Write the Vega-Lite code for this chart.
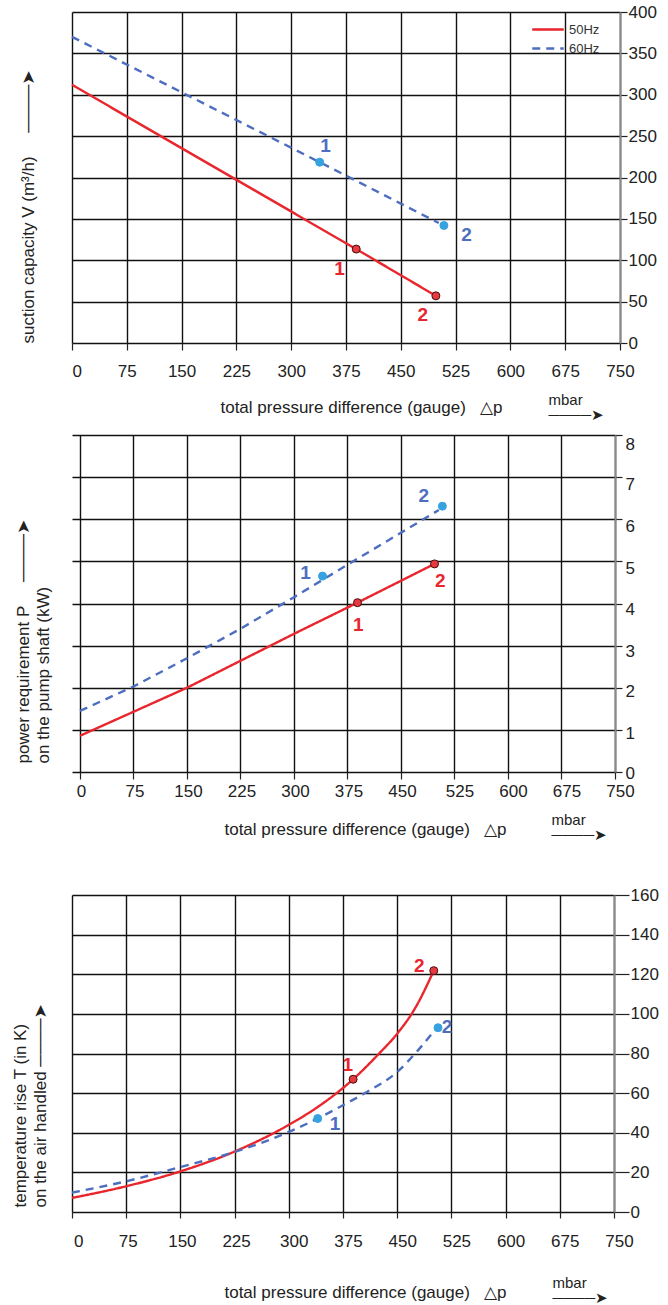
{
  "$schema": "https://vega.github.io/schema/vega-lite/v6.json",
  "padding": {"left": 10, "top": 3, "right": 0, "bottom": 0},
  "autosize": {"type": "pad"},
  "background": "white",
  "config": {"font": "Liberation Sans, Arial, DejaVu Sans, sans-serif", "view": {"stroke": null}},
  "datasets": {
    "suction_curves": [
      {"dp": 0, "V": 312, "freq": "50Hz"}, {"dp": 389, "V": 113.5, "freq": "50Hz"}, {"dp": 498, "V": 57, "freq": "50Hz"},
      {"dp": 0, "V": 370, "freq": "60Hz"}, {"dp": 339, "V": 218.5, "freq": "60Hz"}, {"dp": 502, "V": 145, "freq": "60Hz"}
    ],
    "suction_points": [
      {"dp": 389, "V": 113.5, "freq": "50Hz"}, {"dp": 498, "V": 57, "freq": "50Hz"},
      {"dp": 339, "V": 218.5, "freq": "60Hz"}, {"dp": 509, "V": 142, "freq": "60Hz"}
    ],
    "suction_labels": [
      {"dp": 366, "V": 90, "freq": "50Hz", "label": "1"}, {"dp": 480, "V": 34, "freq": "50Hz", "label": "2"},
      {"dp": 347, "V": 238, "freq": "60Hz", "label": "1"}, {"dp": 540, "V": 130, "freq": "60Hz", "label": "2"}
    ],
    "power_curves": [
      {"dp": 0, "P": 0.86, "freq": "50Hz"}, {"dp": 150, "P": 2.0, "freq": "50Hz"}, {"dp": 300, "P": 3.28, "freq": "50Hz"}, {"dp": 389, "P": 4.02, "freq": "50Hz"}, {"dp": 497, "P": 4.94, "freq": "50Hz"},
      {"dp": 0, "P": 1.45, "freq": "60Hz"}, {"dp": 75, "P": 2.03, "freq": "60Hz"}, {"dp": 150, "P": 2.7, "freq": "60Hz"}, {"dp": 225, "P": 3.4, "freq": "60Hz"}, {"dp": 300, "P": 4.15, "freq": "60Hz"}, {"dp": 375, "P": 4.92, "freq": "60Hz"}, {"dp": 450, "P": 5.68, "freq": "60Hz"}, {"dp": 503, "P": 6.22, "freq": "60Hz"}
    ],
    "power_points": [
      {"dp": 389, "P": 4.02, "freq": "50Hz"}, {"dp": 497, "P": 4.94, "freq": "50Hz"},
      {"dp": 340, "P": 4.65, "freq": "60Hz"}, {"dp": 508, "P": 6.31, "freq": "60Hz"}
    ],
    "power_labels": [
      {"dp": 390, "P": 3.5, "freq": "50Hz", "label": "1"}, {"dp": 505, "P": 4.53, "freq": "50Hz", "label": "2"},
      {"dp": 316, "P": 4.72, "freq": "60Hz", "label": "1"}, {"dp": 482, "P": 6.55, "freq": "60Hz", "label": "2"}
    ],
    "temp_curves": [
      {"dp": 0, "T": 7.1, "freq": "50Hz"}, {"dp": 75, "T": 13, "freq": "50Hz"}, {"dp": 150, "T": 20.5, "freq": "50Hz"}, {"dp": 225, "T": 30.5, "freq": "50Hz"}, {"dp": 300, "T": 44, "freq": "50Hz"}, {"dp": 340, "T": 53, "freq": "50Hz"}, {"dp": 389, "T": 67, "freq": "50Hz"}, {"dp": 425, "T": 80, "freq": "50Hz"}, {"dp": 450, "T": 90, "freq": "50Hz"}, {"dp": 475, "T": 103, "freq": "50Hz"}, {"dp": 500.6, "T": 121.8, "freq": "50Hz"},
      {"dp": 0, "T": 9.8, "freq": "60Hz"}, {"dp": 75, "T": 15.5, "freq": "60Hz"}, {"dp": 150, "T": 22.7, "freq": "60Hz"}, {"dp": 225, "T": 30.3, "freq": "60Hz"}, {"dp": 300, "T": 40.4, "freq": "60Hz"}, {"dp": 340, "T": 47.2, "freq": "60Hz"}, {"dp": 375, "T": 53.9, "freq": "60Hz"}, {"dp": 408, "T": 60.6, "freq": "60Hz"}, {"dp": 450, "T": 70.7, "freq": "60Hz"}, {"dp": 479, "T": 81.7, "freq": "60Hz"}, {"dp": 502, "T": 91.8, "freq": "60Hz"}
    ],
    "temp_points": [
      {"dp": 389, "T": 67, "freq": "50Hz"}, {"dp": 500.6, "T": 121.8, "freq": "50Hz"},
      {"dp": 340, "T": 47.2, "freq": "60Hz"}, {"dp": 506.5, "T": 93, "freq": "60Hz"}
    ],
    "temp_labels": [
      {"dp": 381.5, "T": 74.4, "freq": "50Hz", "label": "1"}, {"dp": 480.5, "T": 124, "freq": "50Hz", "label": "2"},
      {"dp": 364, "T": 44.6, "freq": "60Hz", "label": "1"}, {"dp": 519, "T": 93.5, "freq": "60Hz", "label": "2"}
    ]
  },
  "spacing": 92,
  "bounds": "flush",
  "resolve": {"scale": {"color": "independent", "strokeDash": "independent", "fill": "independent", "stroke": "independent"}},
  "vconcat": [
    {
      "width": 548,
      "height": 331,
      "resolve": {"axis": {"x": "independent", "y": "independent"}},
      "layer": [
        {
          "data": {"name": "suction_curves"},
          "mark": {"type": "line", "strokeWidth": 2.4},
          "encoding": {
            "x": {"field": "dp", "type": "quantitative", "scale": {"domain": [0, 750], "nice": false, "zero": false},
              "axis": {"orient": "bottom", "values": [0, 75, 150, 225, 300, 375, 450, 525, 600, 675, 750], "format": "d",
                "grid": true, "gridColor": "#111", "gridWidth": 1.4, "domain": false,
                "ticks": true, "tickSize": 7, "tickColor": "#222", "tickWidth": 1.2,
                "labelFontSize": 17, "labelColor": "#222", "labelPadding": 21, "labelBaseline": "middle", "labelFlush": false, "labelOverlap": false,
                "labelAlign": {"condition": {"test": "datum.value == 0", "value": "left"}, "value": "center"},
                "title": "total pressure difference (gauge)\u00a0\u00a0\u00a0△p", "titleFontSize": 17, "titleFontWeight": "normal", "titleColor": "#222",
                "titleX": 289, "titleY": 69, "titleAlign": "center", "titleBaseline": "alphabetic"}},
            "y": {"field": "V", "type": "quantitative", "scale": {"domain": [0, 400], "nice": false},
              "axis": {"orient": "right", "values": [0, 50, 100, 150, 200, 250, 300, 350, 400], "title": null,
                "grid": true, "gridColor": "#111", "gridWidth": 1.4,
                "domain": true, "domainColor": "#8a8a8a", "domainWidth": 2,
                "ticks": true, "tickSize": 7, "tickColor": "#222", "tickWidth": 1.2,
                "labelFontSize": 17, "labelColor": "#222", "labelPadding": 1, "labelFlush": false, "labelOverlap": false}},
            "color": {"field": "freq", "type": "nominal", "scale": {"domain": ["50Hz", "60Hz"], "range": ["#e8262d", "#4d6ebf"]},
              "legend": {"orient": "none", "legendX": 464, "legendY": 5.5, "title": null, "symbolType": "M-1.5,0H1.5", "symbolSize": 441, "symbolStrokeWidth": 2.5, "labelFontSize": 13, "labelColor": "#333", "labelOffset": 9, "rowPadding": 0, "padding": 0}},
            "strokeDash": {"field": "freq", "type": "nominal", "scale": {"domain": ["50Hz", "60Hz"], "range": [[1, 0], [8, 6]]},
              "legend": {"orient": "none", "legendX": 464, "legendY": 5.5, "title": null, "symbolType": "M-1.5,0H1.5", "symbolSize": 441, "symbolStrokeWidth": 2.5, "labelFontSize": 13, "labelColor": "#333", "labelOffset": 9, "rowPadding": 0, "padding": 0}}
          }
        },
        {
          "data": {"name": "suction_points"},
          "mark": {"type": "circle", "size": 64, "strokeWidth": 1, "opacity": 1},
          "encoding": {
            "x": {"field": "dp", "type": "quantitative", "axis": null},
            "y": {"field": "V", "type": "quantitative", "axis": null},
            "fill": {"field": "freq", "type": "nominal", "scale": {"domain": ["50Hz", "60Hz"], "range": ["#e53a3f", "#36a2e0"]}, "legend": null},
            "stroke": {"field": "freq", "type": "nominal", "scale": {"domain": ["50Hz", "60Hz"], "range": ["#4a0d0d", "#36a2e0"]}, "legend": null}
          }
        },
        {
          "data": {"name": "suction_labels"},
          "mark": {"type": "text", "fontSize": 19, "fontWeight": "bold", "align": "center", "baseline": "middle"},
          "encoding": {
            "x": {"field": "dp", "type": "quantitative",
              "axis": {"orient": "bottom", "labels": false, "ticks": false, "domain": false, "grid": false,
                "title": ["mbar", "────➤"], "titleFontSize": 15, "titleFontWeight": "normal", "titleColor": "#222", "titleLineHeight": 15,
                "titleX": 476, "titleY": 61, "titleAlign": "left", "titleBaseline": "alphabetic"}},
            "y": {"field": "V", "type": "quantitative",
              "axis": {"orient": "left", "labels": false, "ticks": false, "domain": false, "grid": false,
                "title": "suction capacity V (m³/h)\u00a0\u00a0\u00a0\u00a0\u00a0────➤", "titleFontSize": 17, "titleFontWeight": "normal", "titleColor": "#222",
                "titleAngle": 270, "titleX": -39, "titleY": 331, "titleAlign": "left", "titleBaseline": "alphabetic"}},
            "text": {"field": "label"},
            "color": {"field": "freq", "type": "nominal", "scale": {"domain": ["50Hz", "60Hz"], "range": ["#e8262d", "#4d6ebf"]}, "legend": null}
          }
        }
      ]
    },
    {
      "spacing": 123,
      "bounds": "flush",
      "resolve": {"scale": {"color": "independent", "strokeDash": "independent", "fill": "independent", "stroke": "independent"}},
      "vconcat": [
        {
          "width": 543,
          "height": 337,
          "resolve": {"axis": {"x": "independent", "y": "independent"}},
          "layer": [
            {
              "data": {"name": "power_curves"},
              "mark": {"type": "line", "strokeWidth": 2.4},
              "encoding": {
                "x": {"field": "dp", "type": "quantitative", "scale": {"domain": [-11.21, 750], "nice": false, "zero": false},
                  "axis": {"orient": "bottom", "values": [0, 75, 150, 225, 300, 375, 450, 525, 600, 675, 750], "format": "d",
                    "grid": true, "gridColor": "#111", "gridWidth": 1.4, "domain": false,
                    "ticks": true, "tickSize": 7, "tickColor": "#222", "tickWidth": 1.2,
                    "labelFontSize": 17, "labelColor": "#222", "labelPadding": 12, "labelBaseline": "middle", "labelFlush": false, "labelOverlap": false,
                    "labelOffset": {"condition": {"test": "datum.value >= 525", "value": 5}, "value": 1},
                    "title": "total pressure difference (gauge)\u00a0\u00a0\u00a0△p", "titleFontSize": 17, "titleFontWeight": "normal", "titleColor": "#222",
                    "titleX": 293, "titleY": 62, "titleAlign": "center", "titleBaseline": "alphabetic"}},
                "y": {"field": "P", "type": "quantitative", "scale": {"domain": [0, 8], "nice": false},
                  "axis": {"orient": "right", "values": [0, 1, 2, 3, 4, 5, 6, 7, 8], "title": null,
                    "grid": true, "gridColor": "#111", "gridWidth": 1.4,
                    "domain": true, "domainColor": "#8a8a8a", "domainWidth": 2,
                    "ticks": true, "tickSize": 7, "tickColor": "#222", "tickWidth": 1.2,
                    "labelFontSize": 17, "labelColor": "#222", "labelPadding": 3, "labelFlush": false, "labelOverlap": false,
                    "labelOffset": {"condition": [{"test": "datum.value >= 8", "value": 9}, {"test": "datum.value >= 5", "value": 7}, {"test": "datum.value >= 3", "value": 5.5}, {"test": "datum.value >= 1", "value": 3.5}], "value": 1}}},
                "color": {"field": "freq", "type": "nominal", "scale": {"domain": ["50Hz", "60Hz"], "range": ["#e8262d", "#4d6ebf"]}, "legend": null},
                "strokeDash": {"field": "freq", "type": "nominal", "scale": {"domain": ["50Hz", "60Hz"], "range": [[1, 0], [8, 6]]}, "legend": null}
              }
            },
            {
              "data": {"name": "power_points"},
              "mark": {"type": "circle", "size": 64, "strokeWidth": 1, "opacity": 1},
              "encoding": {
                "x": {"field": "dp", "type": "quantitative", "axis": null},
                "y": {"field": "P", "type": "quantitative", "axis": null},
                "fill": {"field": "freq", "type": "nominal", "scale": {"domain": ["50Hz", "60Hz"], "range": ["#e53a3f", "#36a2e0"]}, "legend": null},
                "stroke": {"field": "freq", "type": "nominal", "scale": {"domain": ["50Hz", "60Hz"], "range": ["#4a0d0d", "#36a2e0"]}, "legend": null}
              }
            },
            {
              "data": {"name": "power_labels"},
              "mark": {"type": "text", "fontSize": 19, "fontWeight": "bold", "align": "center", "baseline": "middle"},
              "encoding": {
                "x": {"field": "dp", "type": "quantitative",
                  "axis": {"orient": "bottom", "labels": false, "ticks": false, "domain": false, "grid": false,
                    "title": ["mbar", "────➤"], "titleFontSize": 15, "titleFontWeight": "normal", "titleColor": "#222", "titleLineHeight": 15,
                    "titleX": 479, "titleY": 52, "titleAlign": "left", "titleBaseline": "alphabetic"}},
                "y": {"field": "P", "type": "quantitative",
                  "axis": {"orient": "left", "labels": false, "ticks": false, "domain": false, "grid": false,
                    "title": ["power requirement P\u00a0\u00a0\u00a0\u00a0\u00a0────➤", "on the pump shaft (kW)"], "titleFontSize": 17, "titleFontWeight": "normal", "titleColor": "#222", "titleLineHeight": 20,
                    "titleAngle": 270, "titleX": -44, "titleY": 328, "titleAlign": "left", "titleBaseline": "alphabetic"}},
                "text": {"field": "label"},
                "color": {"field": "freq", "type": "nominal", "scale": {"domain": ["50Hz", "60Hz"], "range": ["#e8262d", "#4d6ebf"]}, "legend": null}
              }
            }
          ]
        },
        {
          "width": 542,
          "height": 317,
          "resolve": {"axis": {"x": "independent", "y": "independent"}},
          "layer": [
            {
              "data": {"name": "temp_curves"},
              "mark": {"type": "line", "strokeWidth": 2.4, "interpolate": "monotone"},
              "encoding": {
                "x": {"field": "dp", "type": "quantitative", "scale": {"domain": [0, 750], "nice": false, "zero": false},
                  "axis": {"orient": "bottom", "values": [0, 75, 150, 225, 300, 375, 450, 525, 600, 675, 750], "format": "d",
                    "grid": true, "gridColor": "#111", "gridWidth": 1.4, "domain": false,
                    "ticks": true, "tickSize": 6, "tickColor": "#222", "tickWidth": 1.2,
                    "labelFontSize": 17, "labelColor": "#222", "labelPadding": 23, "labelBaseline": "middle", "labelFlush": false, "labelOverlap": false,
                    "labelAlign": {"condition": {"test": "datum.value == 0", "value": "left"}, "value": "center"},
                    "labelOffset": {"condition": {"test": "datum.value >= 300", "value": 5}, "value": 1.5},
                    "title": "total pressure difference (gauge)\u00a0\u00a0\u00a0△p", "titleFontSize": 17, "titleFontWeight": "normal", "titleColor": "#222",
                    "titleX": 293, "titleY": 85, "titleAlign": "center", "titleBaseline": "alphabetic"}},
                "y": {"field": "T", "type": "quantitative", "scale": {"domain": [0, 160], "nice": false},
                  "axis": {"orient": "right", "values": [0, 20, 40, 60, 80, 100, 120, 140, 160], "title": null,
                    "grid": true, "gridColor": "#111", "gridWidth": 1.4,
                    "domain": true, "domainColor": "#8a8a8a", "domainWidth": 2,
                    "ticks": true, "tickSize": 15, "tickColor": "#222", "tickWidth": 1.2,
                    "labelFontSize": 17, "labelColor": "#222", "labelPadding": 1, "labelFlush": false, "labelOverlap": false}},
                "color": {"field": "freq", "type": "nominal", "scale": {"domain": ["50Hz", "60Hz"], "range": ["#e8262d", "#4d6ebf"]}, "legend": null},
                "strokeDash": {"field": "freq", "type": "nominal", "scale": {"domain": ["50Hz", "60Hz"], "range": [[1, 0], [8, 6]]}, "legend": null}
              }
            },
            {
              "data": {"name": "temp_points"},
              "mark": {"type": "circle", "size": 64, "strokeWidth": 1, "opacity": 1},
              "encoding": {
                "x": {"field": "dp", "type": "quantitative", "axis": null},
                "y": {"field": "T", "type": "quantitative", "axis": null},
                "fill": {"field": "freq", "type": "nominal", "scale": {"domain": ["50Hz", "60Hz"], "range": ["#e53a3f", "#36a2e0"]}, "legend": null},
                "stroke": {"field": "freq", "type": "nominal", "scale": {"domain": ["50Hz", "60Hz"], "range": ["#4a0d0d", "#36a2e0"]}, "legend": null}
              }
            },
            {
              "data": {"name": "temp_labels"},
              "mark": {"type": "text", "fontSize": 19, "fontWeight": "bold", "align": "center", "baseline": "middle"},
              "encoding": {
                "x": {"field": "dp", "type": "quantitative",
                  "axis": {"orient": "bottom", "labels": false, "ticks": false, "domain": false, "grid": false,
                    "title": ["mbar", "────➤"], "titleFontSize": 15, "titleFontWeight": "normal", "titleColor": "#222", "titleLineHeight": 15,
                    "titleX": 480, "titleY": 75, "titleAlign": "left", "titleBaseline": "alphabetic"}},
                "y": {"field": "T", "type": "quantitative",
                  "axis": {"orient": "left", "labels": false, "ticks": false, "domain": false, "grid": false,
                    "title": ["temperature rise T (in K)", "on the air handled\u00a0────➤"], "titleFontSize": 17, "titleFontWeight": "normal", "titleColor": "#222", "titleLineHeight": 20,
                    "titleAngle": 270, "titleX": -47, "titleY": 312, "titleAlign": "left", "titleBaseline": "alphabetic"}},
                "text": {"field": "label"},
                "color": {"field": "freq", "type": "nominal", "scale": {"domain": ["50Hz", "60Hz"], "range": ["#e8262d", "#4d6ebf"]}, "legend": null}
              }
            }
          ]
        }
      ]
    }
  ]
}
